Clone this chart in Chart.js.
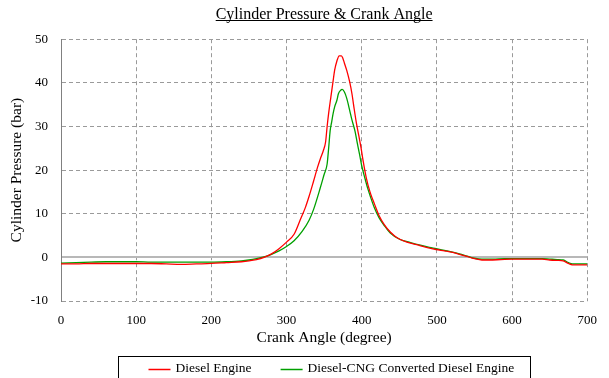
<!DOCTYPE html>
<html>
<head>
<meta charset="utf-8">
<script src="https://cdn.jsdelivr.net/npm/chart.js@4.4.1/dist/chart.umd.min.js"></script>
<style>
html,body{margin:0;padding:0;background:#fff;}
#wrap{position:relative;width:609px;height:378px;overflow:hidden;}
</style>
</head>
<body>
<div id="wrap"><canvas id="c" width="609" height="378"></canvas></div>
<script>
// ---- data ----
const chartTitle = 'Cylinder Pressure & Crank Angle';
const xAxisTitle = 'Crank Angle (degree)';
const yAxisTitle = 'Cylinder Pressure (bar)';
const seriesNames = ['Diesel Engine', 'Diesel-CNG Converted Diesel Engine'];
const xTicks = [0, 100, 200, 300, 400, 500, 600, 700];
const yTicks = [-10, 0, 10, 20, 30, 40, 50];

const dieselAngle = [0,20,40,60,80,100,120,140,160,180,200,220,240,250,260,270,280,290,300,310,318,325,330,336,341,345,349,352,354,356,359,362,364,367,370,373,375,377,380,384,387,390,393,396,399,402,406,411,417,423,430,438,447,460,473,486,499,510,521,530,540,550,560,570,585,600,620,640,650,660,668,675,680,690,700];
const dieselPressure = [-1.5,-1.5,-1.4,-1.4,-1.4,-1.4,-1.4,-1.5,-1.6,-1.5,-1.4,-1.2,-1.0,-0.8,-0.5,0,0.8,2.0,3.5,5.3,8.5,11.4,14,17.5,20.5,22.6,24.5,26.5,30,33,36.8,40.5,42.9,45,46.2,46.2,45.6,44.5,42.9,40.2,37.5,34,30.7,28,25.2,22,18.3,15,12.2,9.6,7.5,5.8,4.5,3.5,2.9,2.3,1.8,1.5,1.15,0.7,0.2,-0.3,-0.6,-0.6,-0.5,-0.4,-0.4,-0.4,-0.6,-0.7,-0.8,-1.4,-1.7,-1.7,-1.7];

const cngAngle = [0,20,40,60,80,100,120,140,160,180,200,220,240,250,260,270,280,290,300,310,321,330,336,345,350,354,356,358,360,362,364,367,369,372,374,377,380,384,387,391,394,397,400,404,408,412,417,423,430,438,451,465,478,490,499,510,521,530,540,550,560,575,590,600,620,640,650,660,668,675,680,690,700];
const cngPressure = [-1.3,-1.2,-1.1,-1.0,-1.0,-1.0,-1.1,-1.1,-1.1,-1.1,-1.1,-1.0,-0.8,-0.6,-0.3,0.1,0.7,1.5,2.5,3.8,6.0,8.5,11,16,19,21.4,25,29,31,33,34.5,36,37.5,38.3,38.5,37.9,36.5,33.7,31.5,29,26.3,23.7,21,18.3,15.8,13.7,11.3,9.1,7.3,5.6,4.1,3.4,2.8,2.3,2.0,1.6,1.2,0.8,0.3,-0.2,-0.4,-0.4,-0.3,-0.3,-0.3,-0.3,-0.4,-0.5,-0.6,-1.2,-1.5,-1.5,-1.5];

const seriesColors = ['#ff0000', '#00a000'];

// ---- chart ----
const SERIF = '"Liberation Serif", "Times New Roman", serif';

const titleUnderline = {
  id: 'titleUnderline',
  afterDraw(chart) {
    const t = chart.titleBlock;
    if (!t) return;
    const ctx = chart.ctx;
    const size = t.options.font.size;
    ctx.save();
    ctx.font = size + 'px ' + SERIF;
    const w = ctx.measureText(chartTitle).width;
    const cx = (t.left + t.right) / 2;
    const lh = size * 1.2;
    const cy = t.top + t.options.padding.top + lh / 2;
    const y = Math.round(cy + size * 0.36) + 0.5;
    ctx.strokeStyle = '#000';
    ctx.lineWidth = 1;
    ctx.beginPath();
    ctx.moveTo(cx - w / 2, y);
    ctx.lineTo(cx + w / 2, y);
    ctx.stroke();
    ctx.restore();
  }
};

const boxedLegend = {
  id: 'boxedLegend',
  afterDraw(chart) {
    const ctx = chart.ctx;
    const area = chart.chartArea;
    const center = (area.left + area.right) / 2;
    const boxL = Math.round(center - 206) + 0.5;
    const boxR = Math.round(center + 206) + 0.5;
    const boxT = Math.round(area.bottom + 55) + 0.5;
    const textY = boxT + 12;
    ctx.save();
    ctx.strokeStyle = '#000';
    ctx.lineWidth = 1;
    ctx.strokeRect(boxL, boxT, boxR - boxL, 60);
    ctx.font = '13.5px ' + SERIF;
    ctx.textBaseline = 'middle';
    ctx.fillStyle = '#000';
    let x = boxL + 30;
    chart.data.datasets.forEach((ds) => {
      ctx.strokeStyle = ds.borderColor;
      ctx.lineWidth = 1.5;
      ctx.beginPath();
      ctx.moveTo(x, Math.round(textY) + 0.5);
      ctx.lineTo(x + 22, Math.round(textY) + 0.5);
      ctx.stroke();
      x += 27;
      ctx.fillText(ds.label, x, textY);
      x += ctx.measureText(ds.label).width + 29;
    });
    ctx.restore();
  }
};

new Chart(document.getElementById('c'), {
  type: 'line',
  data: {
    datasets: [
      {
        label: seriesNames[0],
        data: dieselAngle.map((a, i) => ({ x: a, y: dieselPressure[i] })),
        borderColor: seriesColors[0],
        borderWidth: 1.3,
        pointRadius: 0,
        fill: false,
        cubicInterpolationMode: 'monotone'
      },
      {
        label: seriesNames[1],
        data: cngAngle.map((a, i) => ({ x: a, y: cngPressure[i] })),
        borderColor: seriesColors[1],
        borderWidth: 1.3,
        pointRadius: 0,
        fill: false,
        cubicInterpolationMode: 'monotone'
      }
    ]
  },
  options: {
    responsive: false,
    animation: false,
    devicePixelRatio: 1,
    layout: { padding: { left: 0, right: 14, top: 0, bottom: 27 } },
    plugins: {
      legend: { display: false },
      tooltip: { enabled: false },
      title: {
        display: true,
        text: chartTitle,
        fullSize: false,
        color: '#000',
        font: { family: SERIF, size: 16, weight: 'normal' },
        padding: { top: 5, bottom: 15 }
      }
    },
    scales: {
      x: {
        type: 'linear',
        min: 0,
        max: 700,
        afterBuildTicks: (s) => { s.ticks = xTicks.map(v => ({ value: v })); },
        afterFit: (s) => { s.height = 50; },
        ticks: {
          color: '#000',
          font: { family: SERIF, size: 13 },
          padding: 12,
          maxRotation: 0
        },
        grid: {
          drawTicks: false,
          color: (c) => (c.tick && c.tick.value === 0) ? 'rgba(0,0,0,0)' : '#9a9a9a',
          lineWidth: 1
        },
        border: { display: false, dash: [4, 3] },
        title: {
          display: true,
          text: xAxisTitle,
          color: '#000',
          font: { family: SERIF, size: 15.5 },
          padding: { top: 0, bottom: 4 }
        }
      },
      y: {
        min: -10,
        max: 50,
        afterBuildTicks: (s) => { s.ticks = yTicks.map(v => ({ value: v })); },
        afterFit: (s) => { s.width = 61; },
        ticks: {
          color: '#000',
          font: { family: SERIF, size: 13 },
          padding: 13
        },
        grid: {
          drawTicks: false,
          color: (c) => (c.tick && c.tick.value === 0) ? '#b8b8b8' : '#9a9a9a',
          lineWidth: (c) => (c.tick && c.tick.value === 0) ? 2 : 1
        },
        border: {
          display: true,
          color: '#808080',
          width: 1,
          dash: (c) => (c.tick && c.tick.value === 0) ? [] : [4, 3]
        },
        title: {
          display: true,
          text: yAxisTitle,
          color: '#000',
          font: { family: SERIF, size: 15.5 },
          padding: { top: 8, bottom: 0 }
        }
      }
    }
  },
  plugins: [titleUnderline, boxedLegend]
});
</script>
</body>
</html>
